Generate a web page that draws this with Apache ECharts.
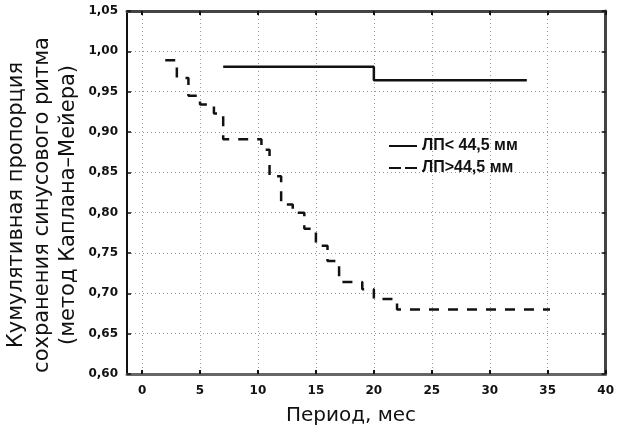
<!DOCTYPE html>
<html>
<head>
<meta charset="utf-8">
<script src="https://cdn.jsdelivr.net/npm/echarts@6/dist/echarts.min.js"></script>
<style>html,body{margin:0;padding:0;background:#fff}#c{width:617px;height:429px}</style>
</head>
<body>
<div id="c"></div>
<script>
// ---- data ----
var xTicks = [0, 5, 10, 15, 20, 25, 30, 35, 40];
var yTicks = [0.60, 0.65, 0.70, 0.75, 0.80, 0.85, 0.90, 0.95, 1.00, 1.05];
var seriesNames = ['ЛП< 44,5 мм', 'ЛП>44,5 мм'];
// ЛП < 44,5 мм (solid)
var lowX = [7, 20, 33.2];
var lowY = [0.981, 0.964, 0.964];
// ЛП > 44,5 мм (dashed)
var highX = [2, 3, 4, 5, 6.2, 7, 10.3, 11, 12, 13, 14, 15, 16, 17, 19, 20, 22, 35.2];
var highY = [0.989, 0.967, 0.945, 0.934, 0.923, 0.891, 0.878, 0.845, 0.81, 0.80, 0.78, 0.759, 0.74, 0.714, 0.705, 0.693, 0.68, 0.68];
var xTitle = 'Период, мес';
var yTitle = ['Кумулятивная пропорция', 'сохранения синусового ритма', '(метод Каплана–Мейера)'];

function pairs(xs, ys) { return xs.map(function (x, i) { return [x, ys[i]]; }); }
function fmt(v) { return (Math.round(v * 100) / 100).toFixed(2).replace('.', ','); }

var chart = echarts.init(document.getElementById('c'), null, { renderer: 'canvas' });
var gridLine = { show: true, lineStyle: { color: '#9a9a9a', width: 1, type: [1, 3] } };

chart.setOption({
  animation: false,
  backgroundColor: '#fff',
  grid: { left: 127, right: 7, top: 11, bottom: 55, containLabel: false },
  xAxis: [{
    type: 'value', min: -1.3, max: 40, position: 'bottom',
    axisLine: { show: true, onZero: false, lineStyle: { color: '#666', width: 3 } },
    axisTick: { show: true, inside: true, length: 4, customValues: xTicks, lineStyle: { color: '#111', width: 2 } },
    axisLabel: { customValues: xTicks, margin: 11, formatter: function (v) { return String(v); },
      fontFamily: 'DejaVu Sans', fontWeight: 'bold', fontSize: 12, color: '#111' },
    splitLine: gridLine
  }, {
    type: 'value', min: -1.3, max: 40, position: 'top',
    axisLine: { show: true, onZero: false, lineStyle: { color: '#444', width: 3 } },
    axisTick: { show: true, inside: true, length: 4, customValues: xTicks, lineStyle: { color: '#111', width: 2 } },
    axisLabel: { show: false, customValues: xTicks },
    splitLine: { show: false }
  }],
  yAxis: [{
    type: 'value', min: 0.6, max: 1.05, interval: 0.05, position: 'left',
    axisLine: { show: true, onZero: false, lineStyle: { color: '#111', width: 2 } },
    axisTick: { show: true, inside: true, length: 4, lineStyle: { color: '#111', width: 1.5 } },
    axisLabel: { margin: 9, formatter: fmt, fontFamily: 'DejaVu Sans', fontWeight: 'bold', fontSize: 12, color: '#111' },
    splitLine: gridLine
  }, {
    type: 'value', min: 0.6, max: 1.05, interval: 0.05, position: 'right',
    axisLine: { show: true, onZero: false, lineStyle: { color: '#444', width: 3 } },
    axisTick: { show: true, inside: true, length: 4, lineStyle: { color: '#111', width: 1.5 } },
    axisLabel: { show: false },
    splitLine: { show: false }
  }],
  legend: {
    left: 383, top: 133, orient: 'vertical', itemWidth: 28, itemHeight: 10, itemGap: 6,
    itemStyle: { opacity: 0 },
    textStyle: { fontFamily: 'Liberation Sans', fontWeight: 'bold', fontSize: 16, color: '#111' },
    data: [{ name: seriesNames[0] }, { name: seriesNames[1], lineStyle: { type: [12, 4] } }]
  },
  series: [{
    name: seriesNames[0], type: 'line', step: 'end', symbol: 'none',
    data: pairs(lowX, lowY),
    lineStyle: { color: '#111', width: 2.5, type: 'solid' },
    itemStyle: { color: '#111' }
  }, {
    name: seriesNames[1], type: 'line', step: 'end', symbol: 'none',
    data: pairs(highX, highY),
    lineStyle: { color: '#111', width: 2.5, type: [10, 9] },
    itemStyle: { color: '#111' }
  }],
  graphic: [{
    type: 'text', x: 351, y: 416,
    style: { text: xTitle, fontFamily: 'DejaVu Sans', fontSize: 20, fill: '#111', align: 'center', verticalAlign: 'middle' }
  }, {
    type: 'text', x: 43, y: 205, rotation: Math.PI / 2,
    style: { text: yTitle.join('\n'), fontFamily: 'DejaVu Sans', fontSize: 21, lineHeight: 26, fill: '#111', align: 'center', verticalAlign: 'middle' }
  }]
});
</script>
</body>
</html>
